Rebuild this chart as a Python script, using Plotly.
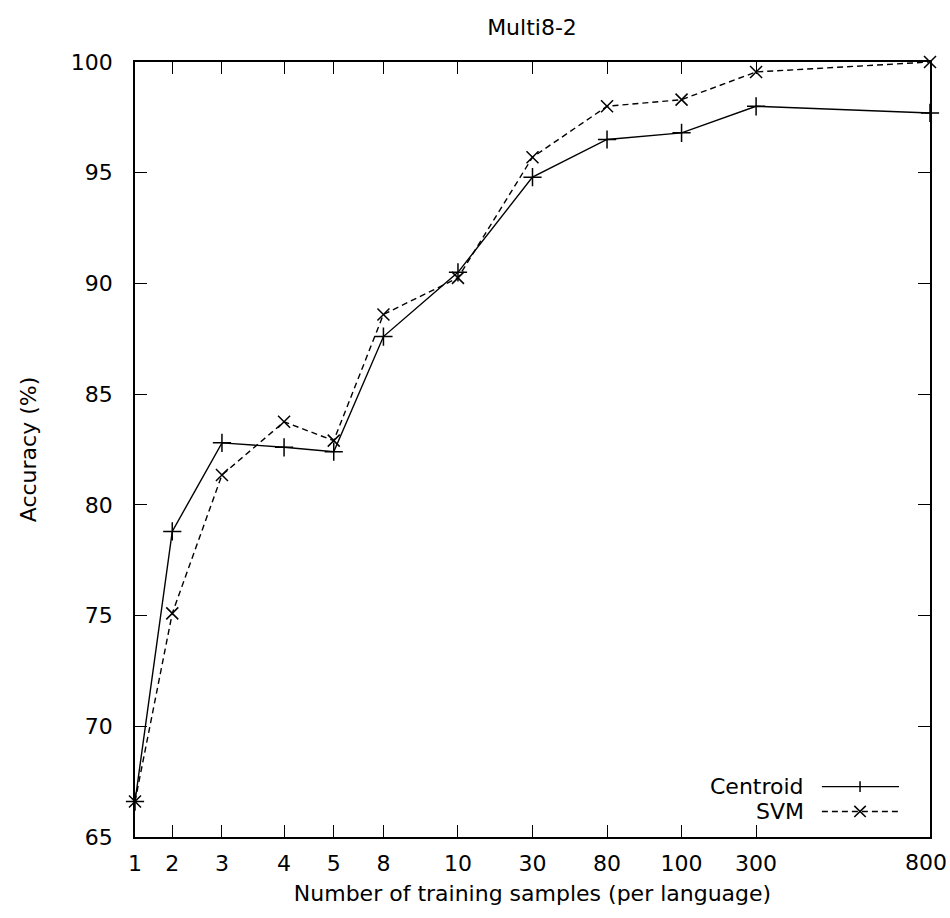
import plotly.graph_objects as go

# Training-set sizes shown on the x axis and their axis positions
tick_labels = ["1", "2", "3", "4", "5", "8", "10", "30", "80", "100", "300", "800"]
tick_pos = [0, 3, 7, 12, 16, 20, 26, 32, 38, 44, 50, 64]

# Accuracy (%) for each classifier
centroid_acc = [66.6, 78.8, 82.8, 82.6, 82.4, 87.6, 90.5, 94.8, 96.5, 96.8, 98.0, 97.7]
svm_acc = [66.6, 75.1, 81.35, 83.75, 82.9, 88.6, 90.25, 95.7, 98.0, 98.3, 99.55, 100.0]

FONT = "DejaVu Sans, Liberation Sans, Arial, sans-serif"
FSIZE = 22
INK = "#000000"

fig = go.Figure()
fig.add_trace(go.Scatter(
    x=tick_pos, y=centroid_acc, mode="lines+markers", name="Centroid",
    line=dict(color=INK, width=1.4),
    marker=dict(symbol="cross-thin", size=13, line=dict(color=INK, width=1.5)),
    cliponaxis=False, showlegend=False,
))
fig.add_trace(go.Scatter(
    x=tick_pos, y=svm_acc, mode="lines+markers", name="SVM",
    line=dict(color=INK, width=1.4, dash="6px,4px"),
    marker=dict(symbol="x-thin", size=12, line=dict(color=INK, width=1.5)),
    cliponaxis=False, showlegend=False,
))

# The last tick label sits at the right border; draw it nudged inward so it stays on the page
fig.add_annotation(
    xref="x", yref="paper", x=tick_pos[-1], y=0, text=tick_labels[-1],
    showarrow=False, xanchor="center", yanchor="top", xshift=-4, yshift=-11,
    font=dict(family=FONT, size=FSIZE, color=INK),
)

# Key in the lower-right corner: label on the left, line sample on the right
key_rows = [("Centroid", "solid", "plus", 0.065), ("SVM", "6px,4px", "x", 0.033)]
for label, dash, sym, yk in key_rows:
    fig.add_annotation(
        xref="paper", yref="paper", x=0.844, y=yk, text=label,
        showarrow=False, xanchor="right", yanchor="middle",
        font=dict(family=FONT, size=FSIZE, color=INK),
    )
    fig.add_shape(type="line", xref="paper", yref="paper",
                  x0=0.864, x1=0.961, y0=yk, y1=yk,
                  line=dict(color=INK, width=1.4, dash=dash))
    xc = 0.912
    if sym == "plus":
        fig.add_shape(type="line", xref="paper", yref="paper",
                      x0=xc, x1=xc, y0=yk - 0.007, y1=yk + 0.007,
                      line=dict(color=INK, width=1.5))
    else:
        dx, dy = 0.0072, 0.0072
        fig.add_shape(type="line", xref="paper", yref="paper",
                      x0=xc - dx, x1=xc + dx, y0=yk - dy, y1=yk + dy,
                      line=dict(color=INK, width=1.5))
        fig.add_shape(type="line", xref="paper", yref="paper",
                      x0=xc - dx, x1=xc + dx, y0=yk + dy, y1=yk - dy,
                      line=dict(color=INK, width=1.5))

axis_common = dict(
    showgrid=False, zeroline=False, showline=True, linecolor=INK, linewidth=1.6,
    mirror="ticks", ticks="inside", ticklen=12, tickwidth=1.4, tickcolor=INK,
    tickfont=dict(family=FONT, size=FSIZE, color=INK), automargin=False,
)

fig.update_layout(
    width=950, height=918, autosize=False,
    margin=dict(l=135, r=20, t=62, b=81, autoexpand=False),
    paper_bgcolor="white", plot_bgcolor="white",
    title=dict(text="Multi8-2", x=0.56, xanchor="center", y=0.97, yanchor="middle",
               font=dict(family=FONT, size=FSIZE, color=INK)),
    xaxis=dict(
        **axis_common, range=[0, 64], tickmode="array",
        tickvals=tick_pos, ticktext=tick_labels[:-1] + [""], ticklabelstandoff=6,
        title=dict(text="Number of training samples (per language)", standoff=10,
                   font=dict(family=FONT, size=FSIZE, color=INK)),
    ),
    yaxis=dict(
        **axis_common, range=[65, 100], tickmode="array",
        tickvals=[65, 70, 75, 80, 85, 90, 95, 100], ticklabelstandoff=16,
        title=dict(text="Accuracy (%)", standoff=28,
                   font=dict(family=FONT, size=FSIZE, color=INK)),
    ),
)

fig.write_html("out.html")
